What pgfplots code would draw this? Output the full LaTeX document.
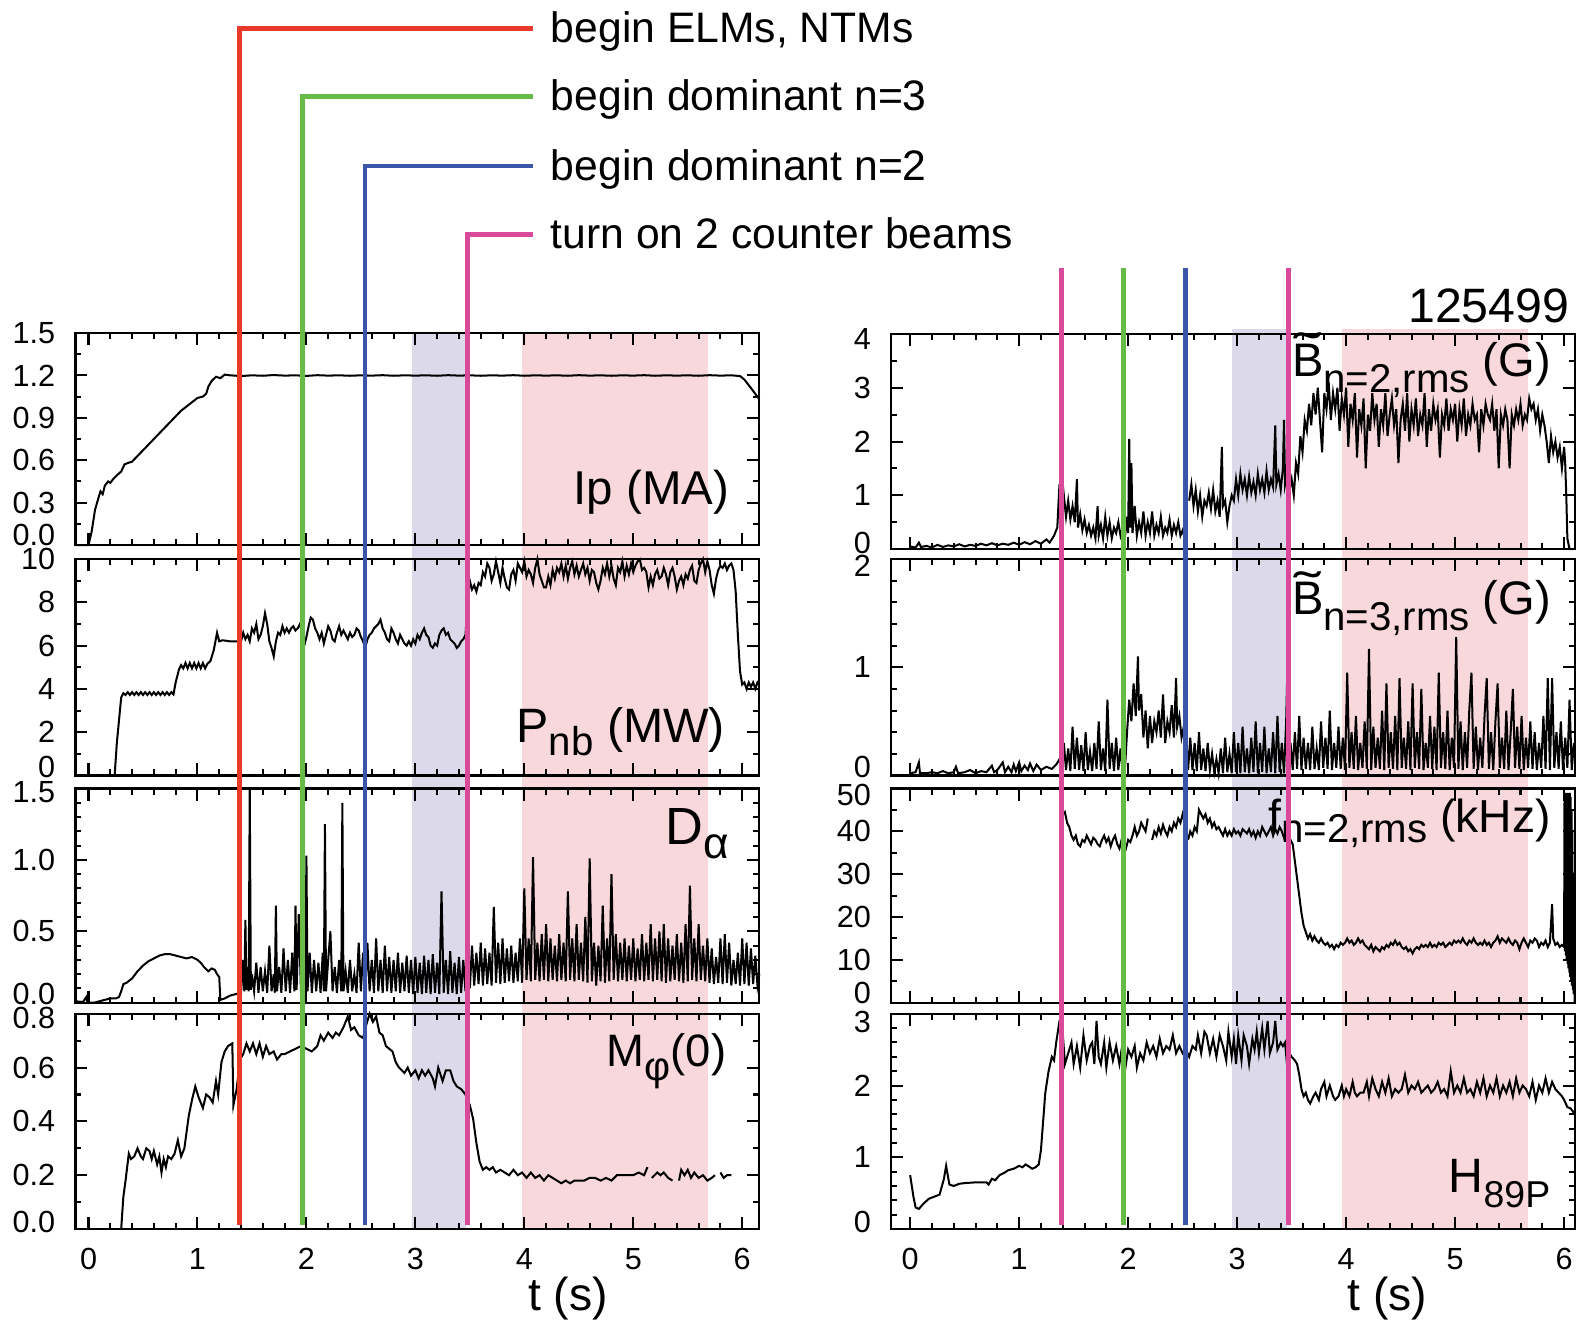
\documentclass[border=0pt]{standalone}
\usepackage{fontspec}
\setmainfont{Liberation Sans}
\usepackage{pgfplots}
\pgfplotsset{compat=1.18}
\definecolor{cRed}{HTML}{E8392B}
\definecolor{cGreen}{HTML}{66BC47}
\definecolor{cBlue}{HTML}{3B56A6}
\definecolor{cMag}{HTML}{D94A9A}
\definecolor{cLav}{HTML}{DCDAEA}
\definecolor{cPink}{HTML}{F8D8DA}
\newcommand\Bt{\ooalign{B\cr\hidewidth\raisebox{0.2em}{\scalebox{1.7}[1]{\char"02DC}}\hidewidth\cr}}
\newcommand\sub[3]{\raisebox{-#1}{\fontsize{#2}{#2}\selectfont #3}}
\newcommand\up[2]{\raisebox{#1}{#2}}
\newcommand\dn[2]{\raisebox{0pt}[\dimexpr\height+#1\relax][0pt]{#2}}
\tikzset{plab/.style={anchor=base east, inner sep=0pt}}
\pgfplotsset{
  pan/.style={scale only axis, width=170pt, anchor=north west, clip=false,
    axis line style={line width=0.55pt}, tick style={line width=0.5pt, black},
    major tick length=3pt, minor tick length=1.5pt,
    xtick={0,1,2,3,4,5,6}, minor x tick num=4, xticklabels={},
    tick label style={font=\fontsize{7.6pt}{8pt}\selectfont},
    yticklabel style={xshift=-1.5pt},
    unbounded coords=jump,
    every axis plot post/.append style={black, line width=0.5pt, mark=none}},
  lcol/.style={pan, xmin=-0.12, xmax=6.157},
  rcol/.style={pan, xmin=-0.175, xmax=6.10},
  bot/.style={xticklabels={0,1,2,3,4,5,6}, xticklabel style={yshift=-1.2pt}},
  ovl/.style={scale only axis, width=170pt, height=305.5pt, anchor=north west,
    hide axis, clip=false, y dir=reverse, ymin=0, ymax=1222}
}
\begin{document}
\begin{tikzpicture}
\useasboundingbox (0,0) rectangle (392pt,-328.5pt);
% ---------- background bands ----------
\begin{axis}[ovl, at={(18.75pt,0pt)}, xmin=-0.12, xmax=6.157]
\fill[cLav] (axis cs:2.972,331) rectangle (axis cs:3.462,1222);
\fill[cPink] (axis cs:3.979,331) rectangle (axis cs:5.686,1222);
\end{axis}
\begin{axis}[ovl, at={(221.5pt,0pt)}, xmin=-0.175, xmax=6.10]
\fill[cLav] (axis cs:2.954,327) rectangle (axis cs:3.462,1222);
\fill[cPink] (axis cs:3.96,327) rectangle (axis cs:5.668,1222);
\end{axis}
% ---------- Ip ----------
\begin{axis}[lcol, at={(18.75pt,-82.75pt)}, height=52.75pt, ymin=0, ymax=1.5,
  ytick={0,0.3,0.6,0.9,1.2,1.5}, yticklabels={\up{5pt}{0.0},0.3,0.6,0.9,1.2,1.5}, minor y tick num=1]
\addplot coordinates {(-0.12,0)(0.0,0)(0.03,0.1)(0.06,0.25)(0.09,0.33)(0.11,0.38)(0.13,0.36)(0.15,0.42)(0.18,0.45)(0.2,0.44)(0.23,0.47)(0.27,0.5)(0.3,0.52)(0.33,0.57)(0.36,0.58)(0.4,0.59)(0.45,0.63)(0.5,0.67)(0.55,0.71)(0.6,0.75)(0.65,0.79)(0.7,0.83)(0.75,0.87)(0.8,0.91)(0.85,0.95)(0.9,0.98)(0.95,1.01)(1.0,1.04)(1.05,1.05)(1.08,1.07)(1.1,1.12)(1.13,1.16)(1.17,1.19)(1.21,1.18)(1.25,1.205)(1.3,1.2)(1.4,1.195)(1.5,1.2)(1.6,1.197)(1.7,1.202)(1.8,1.198)(1.9,1.2)(2.0,1.196)(2.1,1.201)(2.2,1.198)(2.3,1.2)(2.4,1.197)(2.5,1.2)(2.6,1.198)(2.7,1.201)(2.8,1.197)(2.9,1.2)(3.0,1.198)(3.1,1.2)(3.2,1.197)(3.3,1.201)(3.4,1.198)(3.5,1.2)(3.6,1.197)(3.7,1.2)(3.8,1.198)(3.9,1.201)(4.0,1.197)(4.1,1.2)(4.2,1.198)(4.3,1.2)(4.4,1.197)(4.5,1.201)(4.6,1.198)(4.7,1.2)(4.8,1.197)(4.9,1.2)(5.0,1.198)(5.1,1.201)(5.2,1.197)(5.3,1.2)(5.4,1.198)(5.5,1.2)(5.6,1.197)(5.7,1.201)(5.8,1.198)(5.9,1.2)(5.98,1.195)(6.02,1.17)(6.06,1.13)(6.1,1.09)(6.157,1.03)};
\node[plab, font=\fontsize{11.8pt}{12pt}\selectfont] at (rel axis cs:0.957,0.19) {Ip (MA)};
\end{axis}
% ---------- Pnb ----------
\begin{axis}[lcol, at={(18.75pt,-139pt)}, height=53.75pt, ymin=0, ymax=10,
  ytick={0,2,4,6,8,10}, yticklabels={\up{4.5pt}{0},2,4,6,8,10}, minor y tick num=1]
\addplot coordinates {(-0.12,0)(0.24,0)(0.26,1.5)(0.3,3.6)(0.32,3.8)(0.34,3.72)(0.36,3.85)(0.38,3.72)(0.40,3.85)(0.42,3.72)(0.44,3.85)(0.46,3.72)(0.48,3.85)(0.50,3.72)(0.52,3.85)(0.54,3.72)(0.56,3.85)(0.58,3.72)(0.60,3.85)(0.62,3.72)(0.64,3.85)(0.66,3.72)(0.68,3.85)(0.70,3.72)(0.72,3.85)(0.74,3.72)(0.76,3.85)(0.78,3.75)(0.8,4.3)(0.83,4.9)(0.85,5.1)(0.87,4.95)(0.89,5.2)(0.91,4.95)(0.93,5.2)(0.95,4.95)(0.97,5.2)(0.99,4.95)(1.01,5.2)(1.03,4.95)(1.05,5.2)(1.07,4.95)(1.09,5.15)(1.12,5.3)(1.15,5.8)(1.18,6.6)(1.2,6.2)(1.23,6.25)(1.3,6.2)(1.38,6.2)
(1.40,6.2)(1.42,6.6)(1.44,6.3)(1.46,6.5)(1.48,6.2)(1.50,6.8)(1.52,6.6)(1.54,7.0)(1.56,6.3)(1.58,6.5)(1.60,6.9)(1.62,7.5)(1.64,7.0)(1.66,6.2)(1.68,5.9)(1.70,5.5)(1.72,6.2)(1.74,6.6)(1.76,6.5)(1.78,6.9)(1.80,6.6)(1.82,6.8)(1.84,6.6)(1.86,6.8)(1.88,6.9)(1.90,6.7)(1.92,6.8)(1.94,7.0)(1.96,6.7)(1.98,6.0)(2.00,6.4)(2.02,6.9)(2.04,7.3)(2.06,7.2)(2.08,6.8)(2.10,6.6)(2.12,6.3)(2.14,6.6)(2.16,6.1)(2.18,6.5)(2.20,6.9)(2.22,6.7)(2.24,6.3)(2.26,6.2)(2.28,6.6)(2.30,6.9)(2.32,6.5)(2.34,6.7)(2.36,6.5)(2.38,6.3)(2.40,6.6)(2.42,6.4)(2.44,6.5)(2.46,6.8)(2.48,6.7)(2.50,6.4)(2.52,6.2)(2.54,5.9)(2.56,6.3)(2.58,6.5)(2.60,6.6)(2.62,6.8)(2.64,6.9)(2.66,7.0)(2.68,7.2)(2.70,6.8)(2.72,6.6)(2.74,6.3)(2.76,6.2)(2.78,6.8)(2.80,6.6)(2.82,6.3)(2.84,6.1)(2.86,6.5)(2.88,6.3)(2.90,6.1)(2.92,6.0)(2.94,6.2)(2.96,6.0)(2.98,6.3)(3.00,6.1)(3.02,6.5)(3.04,6.3)(3.06,6.6)(3.08,6.8)(3.10,6.5)(3.12,6.4)(3.14,6.0)(3.16,5.9)(3.18,6.1)(3.20,6.0)(3.22,6.5)(3.24,6.7)(3.26,6.8)(3.28,6.5)(3.30,6.6)(3.32,6.3)(3.34,6.2)(3.36,6.1)(3.38,5.9)(3.40,6.0)(3.42,6.2)(3.44,6.3)(3.46,6.5)(3.48,8.0)(3.50,9.0)(3.52,8.6)(3.54,8.8)(3.56,8.5)(3.58,8.9)(3.60,8.8)(3.62,9.4)(3.64,9.2)(3.66,9.8)(3.68,9.6)(3.70,9.0)(3.72,9.3)(3.74,9.9)(3.76,9.4)(3.78,8.9)(3.80,9.6)(3.82,9.1)(3.84,8.7)(3.86,8.6)(3.88,9.3)(3.90,9.5)(3.92,9.0)(3.94,9.8)(3.96,9.6)(3.98,9.4)(4.00,9.9)(4.02,9.2)(4.04,9.5)(4.06,9.3)(4.08,8.9)(4.10,9.6)(4.12,10.0)(4.14,9.3)(4.16,9.0)(4.18,8.7)(4.20,8.7)(4.22,9.2)(4.24,8.8)(4.26,9.5)(4.28,9.1)(4.30,9.6)(4.32,9.4)(4.34,9.8)(4.36,9.2)(4.38,9.7)(4.40,9.1)(4.42,9.6)(4.44,9.9)(4.46,9.3)(4.48,9.7)(4.50,9.2)(4.52,9.5)(4.54,9.8)(4.56,9.3)(4.58,9.6)(4.60,9.0)(4.62,9.5)(4.64,9.4)(4.66,8.9)(4.68,8.6)(4.70,9.0)(4.72,9.6)(4.74,9.3)(4.76,9.8)(4.78,9.2)(4.80,9.7)(4.82,9.1)(4.84,8.8)(4.86,9.6)(4.88,9.4)(4.90,9.9)(4.92,9.2)(4.94,9.7)(4.96,9.3)(4.98,9.8)(5.00,9.4)(5.02,9.7)(5.04,9.9)(5.06,10.0)(5.08,9.5)(5.10,9.6)(5.12,9.4)(5.14,8.7)(5.16,9.2)(5.18,8.8)(5.20,9.3)(5.22,9.5)(5.24,9.1)(5.26,9.2)(5.28,9.6)(5.30,9.3)(5.32,8.8)(5.34,9.4)(5.36,9.6)(5.38,9.2)(5.40,8.6)(5.42,9.0)(5.44,9.2)(5.46,8.8)(5.48,9.3)(5.50,9.1)(5.52,9.5)(5.54,9.7)(5.56,9.0)(5.58,8.9)(5.60,9.5)(5.62,9.8)(5.64,10.0)(5.66,9.4)(5.68,9.9)(5.70,9.5)(5.72,8.8)(5.74,8.4)(5.76,9.1)(5.78,9.5)(5.80,9.7)(5.82,9.6)(5.84,9.8)(5.86,9.5)(5.88,9.7)(5.90,9.8)(5.92,9.5)(5.94,8.5)(5.96,6.5)(5.98,4.8)(6.00,4.2)(6.02,4.3)(6.04,4.0)(6.06,4.3)(6.08,4.1)(6.10,4.3)(6.12,4.0)(6.14,4.3)(6.157,4.2)};
\node[plab, font=\fontsize{12pt}{14pt}\selectfont] at (rel axis cs:0.951,0.153) {P\sub{3.2pt}{10pt}{nb} (MW)};
\end{axis}
% ---------- D alpha ----------
\begin{axis}[lcol, at={(18.75pt,-196pt)}, height=53.25pt, ymin=0, ymax=1.5,
  ytick={0,0.5,1,1.5}, yticklabels={\up{4.5pt}{0.0},0.5,1.0,\dn{1.5pt}{1.5}}, minor y tick num=4]
\addplot coordinates {(-0.12,0.01)(-0.05,0.005)(-0.02,0.04)(-0.01,0.0)(0.05,0.0)(0.1,0.01)(0.15,0.02)(0.2,0.03)(0.25,0.03)(0.28,0.04)(0.3,0.08)(0.32,0.13)(0.35,0.14)(0.4,0.17)(0.45,0.22)(0.5,0.26)(0.55,0.29)(0.6,0.31)(0.65,0.33)(0.7,0.34)(0.75,0.34)(0.8,0.33)(0.85,0.32)(0.9,0.31)(0.95,0.32)(1.0,0.3)(1.03,0.28)(1.06,0.25)(1.1,0.22)(1.13,0.24)(1.16,0.23)(1.18,0.2)(1.2,0.18)(1.21,0.02)(1.25,0.03)(1.3,0.05)(1.35,0.06)
(1.40,.07)(1.42,.30)(1.43,.08)(1.44,.58)(1.45,.09)(1.46,.25)(1.47,.08)(1.48,1.5)(1.49,.09)(1.50,.20)(1.52,.08)(1.54,.28)(1.56,.07)(1.58,.25)(1.60,.08)(1.62,.22)(1.64,.07)(1.66,.40)(1.68,.08)(1.70,.20)(1.71,.07)(1.72,.68)(1.73,.08)(1.75,.25)(1.77,.07)(1.79,.38)(1.81,.08)(1.83,.30)(1.85,.07)(1.87,.35)(1.89,.08)(1.90,.68)(1.91,.09)(1.93,.62)(1.95,.08)(1.97,.20)(1.99,.07)(2.00,1.03)(2.01,.08)(2.03,.35)(2.05,.07)(2.07,.30)(2.09,.08)(2.11,.28)(2.13,.07)(2.15,.35)(2.16,.08)(2.17,1.25)(2.18,.08)(2.20,.30)(2.22,.50)(2.24,.08)(2.26,.25)(2.28,.07)(2.30,.30)(2.32,.08)(2.33,1.40)(2.34,.08)(2.36,.22)(2.38,.07)(2.40,.30)(2.42,.08)(2.44,.20)(2.46,.07)(2.48,.42)(2.50,.08)(2.52,.35)(2.54,.07)(2.56,.42)(2.58,.08)(2.60,.30)(2.62,.07)(2.64,.45)(2.66,.08)(2.68,.30)(2.70,.07)(2.72,.40)(2.74,.08)(2.76,.32)(2.78,.07)(2.80,.30)(2.82,.08)(2.84,.35)(2.86,.07)(2.88,.28)(2.90,.08)(2.92,.33)(2.94,.07)(2.96,.30)(2.98,.06)(3.00,.32)(3.02,.07)(3.04,.28)(3.06,.06)(3.08,.33)(3.10,.07)(3.12,.30)(3.14,.06)(3.16,.34)(3.18,.07)(3.20,.28)(3.22,.06)(3.24,.78)(3.26,.07)(3.28,.30)(3.30,.06)(3.32,.36)(3.34,.07)(3.36,.28)(3.38,.06)(3.40,.32)(3.42,.07)(3.44,.30)(3.46,.08)(3.48,.35)(3.50,.10)
(3.52,.40)(3.54,.12)(3.56,.35)(3.58,.13)(3.60,.42)(3.62,.12)(3.64,.38)(3.66,.13)(3.68,.35)(3.70,.12)(3.72,.67)(3.74,.14)(3.76,.42)(3.78,.13)(3.80,.45)(3.82,.14)(3.84,.38)(3.86,.15)(3.88,.40)(3.90,.14)(3.92,.35)(3.94,.15)(3.96,.45)(3.98,.14)(4.00,.80)(4.02,.16)(4.04,.45)(4.06,.15)(4.08,1.02)(4.10,.16)(4.12,.42)(4.14,.15)(4.16,.48)(4.18,.16)(4.20,.55)(4.22,.15)(4.24,.45)(4.26,.16)(4.28,.40)(4.30,.15)(4.32,.48)(4.34,.16)(4.36,.42)(4.38,.15)(4.40,.78)(4.42,.16)(4.44,.45)(4.46,.15)(4.48,.55)(4.50,.16)(4.52,.42)(4.54,.15)(4.56,.60)(4.58,.14)(4.60,1.01)(4.62,.15)(4.64,.42)(4.66,.12)(4.68,.40)(4.70,.15)(4.72,.68)(4.74,.14)(4.76,.45)(4.78,.15)(4.80,.90)(4.82,.16)(4.84,.48)(4.86,.15)(4.88,.42)(4.90,.16)(4.92,.45)(4.94,.15)(4.96,.40)(4.98,.16)(5.00,.45)(5.02,.15)(5.04,.38)(5.06,.16)(5.08,.48)(5.10,.15)(5.12,.42)(5.14,.16)(5.16,.55)(5.18,.15)(5.20,.45)(5.22,.16)(5.24,.50)(5.26,.15)(5.28,.55)(5.30,.14)(5.32,.45)(5.34,.15)(5.36,.40)(5.38,.16)(5.40,.48)(5.42,.15)(5.44,.42)(5.46,.14)(5.48,.55)(5.50,.15)(5.52,.82)(5.54,.16)(5.56,.45)(5.58,.15)(5.60,.55)(5.62,.16)(5.64,.40)(5.66,.15)(5.68,.45)(5.70,.14)(5.72,.38)(5.74,.13)(5.76,.32)(5.78,.14)(5.80,.45)(5.82,.13)(5.84,.48)(5.86,.14)(5.88,.42)(5.90,.12)(5.92,.30)(5.94,.13)(5.96,.35)(5.98,.12)(6.00,.45)(6.02,.13)(6.04,.42)(6.06,.12)(6.08,.38)(6.10,.13)(6.12,.33)(6.14,.12)(6.157,.20)};
\node[plab, font=\fontsize{13pt}{14pt}\selectfont] at (rel axis cs:0.957,0.737) {D\sub{3.5pt}{11pt}{α}};
\end{axis}
% ---------- M phi ----------
\begin{axis}[lcol, bot, at={(18.75pt,-252pt)}, height=53.5pt, ymin=0, ymax=0.8,
  ytick={0,0.2,0.4,0.6,0.8}, yticklabels={\up{3.5pt}{0.0},0.2,0.4,0.6,\dn{2pt}{0.8}}, minor y tick num=1]
\addplot coordinates {(0.30,0)(0.32,0.12)(0.34,0.18)(0.37,0.28)(0.39,0.26)(0.42,0.27)(0.45,0.3)(0.48,0.27)(0.5,0.26)(0.53,0.3)(0.56,0.29)(0.58,0.26)(0.6,0.29)(0.63,0.24)(0.65,0.27)(0.67,0.21)(0.69,0.26)(0.71,0.23)(0.73,0.27)(0.76,0.26)(0.79,0.28)(0.82,0.33)(0.85,0.27)(0.88,0.3)(0.92,0.42)(0.95,0.48)(0.98,0.53)(1.01,0.49)(1.05,0.45)(1.08,0.5)(1.11,0.49)(1.14,0.47)(1.17,0.55)(1.19,0.5)(1.22,0.62)(1.25,0.66)(1.28,0.68)(1.32,0.69)(1.33,0.46)(1.36,0.52)(1.39,0.63)(1.42,0.65)(1.45,0.69)(1.48,0.66)(1.51,0.69)(1.54,0.65)(1.57,0.69)(1.6,0.64)(1.63,0.68)(1.66,0.65)(1.7,0.66)(1.73,0.63)(1.77,0.65)(1.8,0.65)(1.85,0.66)(1.9,0.67)(1.95,0.68)(2.0,0.67)(2.05,0.66)(2.1,0.68)(2.13,0.72)(2.16,0.7)(2.2,0.73)(2.24,0.71)(2.27,0.73)(2.3,0.72)(2.34,0.75)(2.38,0.79)(2.41,0.74)(2.44,0.75)(2.48,0.72)(2.52,0.71)(2.55,0.76)(2.58,0.8)(2.61,0.77)(2.64,0.79)(2.67,0.73)(2.7,0.72)(2.73,0.68)(2.76,0.67)(2.79,0.66)(2.82,0.62)(2.85,0.6)(2.9,0.58)(2.93,0.6)(2.96,0.57)(3.0,0.59)(3.03,0.56)(3.06,0.59)(3.09,0.57)(3.12,0.59)(3.16,0.56)(3.18,0.53)(3.21,0.6)(3.25,0.55)(3.28,0.59)(3.32,0.59)(3.35,0.55)(3.38,0.53)(3.42,0.52)(3.46,0.5)(3.5,0.46)(3.53,0.41)(3.56,0.32)(3.59,0.25)(3.62,0.22)(3.65,0.23)(3.68,0.22)(3.71,0.23)(3.74,0.21)(3.78,0.22)(3.82,0.21)(3.86,0.2)(3.9,0.22)(3.94,0.2)(3.98,0.21)(4.02,0.19)(4.06,0.21)(4.1,0.19)(4.14,0.2)(4.18,0.18)(4.22,0.2)(4.26,0.19)(4.3,0.18)(4.34,0.17)(4.38,0.18)(4.42,0.17)(4.46,0.18)(4.5,0.18)(4.55,0.18)(4.6,0.19)(4.65,0.19)(4.7,0.18)(4.75,0.19)(4.8,0.18)(4.85,0.2)(4.9,0.2)(4.95,0.2)(5.0,0.2)(5.05,0.21)(5.1,0.2)(5.13,0.23)(5.14,nan)(5.17,0.19)(5.22,0.21)(5.25,0.2)(5.28,0.21)(5.32,0.19)(5.36,0.18)(5.38,nan)(5.42,0.18)(5.44,0.22)(5.47,0.2)(5.5,0.22)(5.53,0.19)(5.56,0.21)(5.6,0.19)(5.64,0.2)(5.68,0.18)(5.72,0.19)(5.75,0.2)(5.77,nan)(5.8,0.21)(5.83,0.19)(5.86,0.2)(5.9,0.2)};
\node[plab, font=\fontsize{11.3pt}{12pt}\selectfont] at (rel axis cs:0.953,0.757) {M\sub{3.5pt}{10pt}{φ}(0)};
\node[anchor=base, inner sep=0pt, yshift=-20.25pt, font=\fontsize{11.5pt}{12pt}\selectfont] at (rel axis cs:0.72,0) {t (s)};
\end{axis}
% ---------- B n=2 ----------
\begin{axis}[rcol, at={(221.5pt,-83pt)}, height=53.5pt, ymin=0, ymax=4,
  ytick={0,1,2,3,4}, yticklabels={\up{3pt}{0},1,2,3,\dn{2.5pt}{4}}, minor y tick num=1]
\addplot coordinates {(0.00,.05)(0.05,.03)(0.08,.12)(0.1,.04)(0.15,.06)(0.2,.03)(0.25,.08)(0.3,.04)(0.35,.07)(0.4,.05)(0.45,.09)(0.5,.05)(0.55,.08)(0.6,.06)(0.65,.1)(0.7,.07)(0.75,.11)(0.8,.07)(0.85,.1)(0.9,.08)(0.95,.12)(1.0,.08)(1.05,.13)(1.1,.09)(1.15,.15)(1.2,.1)(1.25,.18)(1.28,.12)(1.32,.25)(1.35,.4)(1.37,1.2)(1.39,.7)(1.41,1.0)(1.43,.6)(1.45,.9)(1.47,.55)(1.49,.8)(1.51,.5)(1.53,1.3)(1.54,.4)(1.56,.65)(1.58,.35)(1.6,.55)(1.62,.3)(1.64,.45)(1.66,.25)(1.68,.4)(1.7,.2)(1.72,.8)(1.73,.25)(1.75,.45)(1.77,.2)(1.79,.6)(1.81,.25)(1.83,.5)(1.85,.2)(1.87,.4)(1.89,.3)(1.91,.5)(1.93,.25)(1.95,.4)(1.97,.2)(1.99,.6)(2.0,.3)(2.01,2.05)(2.02,.4)(2.03,1.6)(2.04,.3)(2.06,.8)(2.08,.25)(2.1,.5)(2.12,.3)(2.14,.7)(2.16,.25)(2.18,.5)(2.2,.3)(2.22,.7)(2.24,.25)(2.26,.45)(2.28,.3)(2.3,.6)(2.32,.25)(2.34,.4)(2.36,.3)(2.38,.55)(2.4,.25)(2.42,.45)(2.44,.3)(2.46,.5)(2.48,.25)(2.5,.35)(2.52,.2)(2.53,nan)(2.56,.9)(2.58,1.2)(2.6,.8)(2.62,1.1)(2.64,.7)(2.66,1.0)(2.68,.6)(2.70,.9)(2.72,.8)(2.74,1.05)(2.76,.75)(2.78,1.1)(2.8,.7)(2.82,.9)(2.84,.6)(2.86,1.9)(2.87,.8)(2.89,.9)(2.91,.5)(2.93,.8)(2.95,1.0)(2.97,.9)(2.99,1.3)(3.01,1.0)(3.03,1.4)(3.05,1.1)(3.07,1.3)(3.09,1.0)(3.11,1.35)(3.13,1.05)(3.15,1.25)(3.17,1.0)(3.19,1.4)(3.21,1.1)(3.23,1.3)(3.25,1.05)(3.27,1.45)(3.29,1.1)(3.31,1.3)(3.33,1.15)(3.35,2.3)(3.36,1.2)(3.38,1.4)(3.4,1.1)(3.42,1.5)(3.43,2.4)(3.44,1.2)(3.46,1.4)(3.48,1.1)(3.50,1.3)(3.52,1.0)(3.54,1.6)(3.56,1.4)(3.58,2.1)(3.60,1.8)(3.62,2.4)(3.64,2.2)(3.66,2.7)(3.68,2.3)(3.70,2.9)(3.72,2.5)(3.74,3.0)(3.76,2.4)(3.78,1.8)(3.80,2.9)(3.82,2.6)(3.84,3.1)(3.86,2.4)(3.88,2.9)(3.90,2.6)(3.92,3.0)(3.94,2.2)(3.96,2.8)(3.98,2.5)(4.0,3.0)(4.02,1.9)(4.04,2.7)(4.06,2.4)(4.08,2.9)(4.10,1.7)(4.12,2.6)(4.14,2.3)(4.16,2.8)(4.18,1.5)(4.20,2.5)(4.22,2.2)(4.24,2.9)(4.26,2.4)(4.28,2.7)(4.30,1.9)(4.32,2.6)(4.34,2.3)(4.36,2.9)(4.38,2.1)(4.40,2.5)(4.42,2.8)(4.44,2.3)(4.46,2.6)(4.48,1.6)(4.50,2.4)(4.52,2.7)(4.54,2.2)(4.56,2.9)(4.58,2.0)(4.60,2.6)(4.62,2.3)(4.64,2.8)(4.66,2.1)(4.68,2.5)(4.70,2.3)(4.72,2.9)(4.74,1.9)(4.76,2.6)(4.78,2.2)(4.80,2.7)(4.82,2.4)(4.84,2.6)(4.86,1.7)(4.88,2.5)(4.90,2.3)(4.92,2.8)(4.94,2.2)(4.96,2.6)(4.98,2.4)(5.00,2.7)(5.02,2.0)(5.04,2.6)(5.06,2.3)(5.08,2.8)(5.10,2.1)(5.12,2.5)(5.14,2.3)(5.16,2.7)(5.18,2.4)(5.20,2.5)(5.22,1.8)(5.24,2.6)(5.26,2.3)(5.28,2.7)(5.30,2.5)(5.32,2.4)(5.34,2.7)(5.36,2.2)(5.38,2.6)(5.40,1.5)(5.42,2.5)(5.44,2.3)(5.46,2.6)(5.48,2.4)(5.50,1.5)(5.52,2.5)(5.54,2.3)(5.56,2.6)(5.58,2.4)(5.60,2.7)(5.62,2.3)(5.64,2.5)(5.66,2.4)(5.68,2.8)(5.70,2.6)(5.72,2.7)(5.74,2.4)(5.76,2.6)(5.78,2.2)(5.80,2.5)(5.82,2.3)(5.84,2.0)(5.86,1.6)(5.88,2.1)(5.90,1.8)(5.92,2.0)(5.94,1.7)(5.96,1.9)(5.98,1.5)(6.00,1.9)(6.01,1.6)(6.02,1.0)(6.03,0.2)(6.05,0.0)(6.08,0.0)};
\node[plab, font=\fontsize{11.7pt}{12pt}\selectfont] at (rel axis cs:0.966,0.804) {\Bt\sub{4pt}{10pt}{n=2,rms} (G)};
\node[plab, font=\fontsize{12pt}{12pt}\selectfont] at (rel axis cs:0.993,1.051) {125499};
\end{axis}
% ---------- B n=3 ----------
\begin{axis}[rcol, at={(221.5pt,-139pt)}, height=53.75pt, ymin=0, ymax=2,
  ytick={0,1,2}, yticklabels={\up{4.5pt}{0},1,\dn{3.5pt}{2}}, minor y tick num=4]
\addplot coordinates {(0.0,.02)(0.05,.03)(0.08,.12)(0.09,.02)(0.15,.02)(0.2,.03)(0.25,.02)(0.3,.04)(0.35,.02)(0.4,.03)(0.42,.08)(0.44,.02)(0.5,.03)(0.55,.05)(0.6,.02)(0.65,.04)(0.7,.03)(0.75,.09)(0.77,.03)(0.8,.05)(0.85,.12)(0.87,.03)(0.9,.08)(0.93,.03)(0.95,.1)(0.97,.04)(1.0,.12)(1.02,.04)(1.05,.09)(1.08,.05)(1.1,.11)(1.13,.04)(1.16,.1)(1.2,.05)(1.25,.08)(1.3,.06)(1.34,.1)(1.37,.15)(1.39,.05)(1.41,.3)(1.43,.05)(1.45,.25)(1.47,.04)(1.49,.45)(1.51,.06)(1.53,.35)(1.55,.05)(1.57,.28)(1.59,.04)(1.61,.4)(1.63,.05)(1.65,.22)(1.67,.04)(1.69,.3)(1.71,.06)(1.73,.5)(1.75,.05)(1.77,.25)(1.79,.04)(1.81,.7)(1.83,.06)(1.85,.3)(1.87,.04)(1.89,.35)(1.91,.05)(1.93,.25)(1.95,.04)(1.97,.05)(1.99,.4)(2.01,.7)(2.03,.5)(2.05,.85)(2.07,.55)(2.09,1.1)(2.1,.6)(2.12,.75)(2.14,.35)(2.16,.6)(2.18,.25)(2.2,.55)(2.22,.3)(2.24,.5)(2.26,.4)(2.28,.6)(2.3,.35)(2.32,.75)(2.34,.3)(2.36,.5)(2.38,.4)(2.4,.65)(2.42,.35)(2.44,.9)(2.45,.45)(2.47,.55)(2.49,.35)(2.51,.45)(2.53,.4)(2.55,.05)(2.57,.35)(2.59,.05)(2.61,.3)(2.63,.04)(2.65,.4)(2.67,.05)(2.69,.25)(2.71,.04)(2.73,.3)(2.75,.05)(2.77,.2)(2.79,.03)(2.81,.15)(2.83,.02)(2.85,.25)(2.87,.02)(2.89,.35)(2.91,.03)(2.93,.2)(2.95,.02)(2.97,.4)(2.99,.03)(3.01,.3)(3.03,.02)(3.05,.45)(3.07,.03)(3.09,.25)(3.11,.02)(3.13,.35)(3.15,.03)(3.17,.5)(3.19,.02)(3.21,.3)(3.23,.03)(3.25,.45)(3.27,.02)(3.29,.25)(3.31,.03)(3.33,.4)(3.35,.02)(3.37,.55)(3.39,.03)(3.41,.3)(3.43,.02)(3.45,.5)(3.46,.95)(3.47,.04)(3.49,.3)(3.51,.05)(3.53,.4)(3.55,.06)(3.57,.55)(3.59,.05)(3.61,.35)(3.63,.06)(3.65,.3)(3.67,.05)(3.69,.45)(3.71,.06)(3.73,.25)(3.75,.05)(3.77,.5)(3.79,.07)(3.81,.35)(3.83,.06)(3.85,.6)(3.87,.05)(3.89,.3)(3.91,.07)(3.93,.45)(3.95,.06)(3.97,.35)(3.99,.05)(4.01,.95)(4.03,.07)(4.05,.4)(4.07,.06)(4.09,.55)(4.11,.05)(4.13,.3)(4.15,.07)(4.17,.5)(4.19,.06)(4.21,1.17)(4.23,.05)(4.25,.45)(4.27,.07)(4.29,.35)(4.31,.06)(4.33,.6)(4.35,.05)(4.37,.85)(4.39,.07)(4.41,.4)(4.43,.06)(4.45,.55)(4.47,.05)(4.49,.9)(4.51,.07)(4.53,.35)(4.55,.06)(4.57,.5)(4.59,.05)(4.61,.85)(4.63,.07)(4.65,.4)(4.67,.06)(4.69,.8)(4.71,.05)(4.73,.3)(4.75,.07)(4.77,.55)(4.79,.06)(4.81,.45)(4.83,.05)(4.85,.95)(4.87,.07)(4.89,.4)(4.91,.06)(4.93,.6)(4.95,.05)(4.97,.35)(4.99,.07)(5.01,1.28)(5.03,.06)(5.05,.5)(5.07,.05)(5.09,.4)(5.11,.07)(5.13,.6)(5.15,.95)(5.17,.06)(5.19,.45)(5.21,.05)(5.23,.35)(5.25,.07)(5.27,.55)(5.29,.9)(5.31,.06)(5.33,.4)(5.35,.05)(5.37,.5)(5.39,.85)(5.41,.07)(5.43,.35)(5.45,.06)(5.47,.6)(5.49,.05)(5.51,.4)(5.53,.8)(5.55,.07)(5.57,.45)(5.59,.06)(5.61,.55)(5.63,.05)(5.65,.35)(5.67,.07)(5.69,.5)(5.71,.06)(5.73,.4)(5.75,.05)(5.77,.3)(5.79,.07)(5.81,.55)(5.83,.06)(5.85,.9)(5.87,.05)(5.89,.9)(5.91,.07)(5.93,.4)(5.95,.06)(5.97,.5)(5.99,.05)(6.01,.35)(6.03,.07)(6.05,.7)(6.07,.05)(6.09,.3)};
\node[plab, font=\fontsize{11.7pt}{12pt}\selectfont] at (rel axis cs:0.966,0.744) {\Bt\sub{4pt}{10pt}{n=3,rms} (G)};
\end{axis}
% ---------- f ----------
\begin{axis}[rcol, at={(221.5pt,-196pt)}, height=53.25pt, ymin=0, ymax=50,
  ytick={0,10,20,30,40,50}, yticklabels={\up{5pt}{0},10,20,30,40,\dn{3pt}{50}}, minor y tick num=1]
\addplot coordinates {(1.38,45)(1.40,44)(1.42,44.5)(1.44,42)(1.46,41)(1.48,39)(1.50,38)(1.52,39)(1.54,37)(1.56,36.5)(1.58,38)(1.60,37.5)(1.62,39)(1.64,38)(1.66,37)(1.68,38.5)(1.70,38)(1.72,37)(1.74,36.5)(1.76,38)(1.78,39)(1.80,37.5)(1.82,38.5)(1.84,36.5)(1.86,38)(1.88,39)(1.90,37)(1.92,36)(1.94,38)(1.96,37)(1.98,36)(2.00,38)(2.02,37.5)(2.04,39)(2.06,41)(2.08,39)(2.10,40)(2.12,42)(2.14,41)(2.16,40)(2.18,43)(2.19,nan)(2.22,38)(2.24,40)(2.26,39)(2.28,41)(2.30,39.5)(2.32,41.5)(2.34,40)(2.36,39)(2.38,41)(2.40,40)(2.42,42)(2.44,41)(2.46,43)(2.48,42)(2.50,44)(2.52,42)(2.53,nan)(2.55,38)(2.57,40)(2.59,39)(2.61,41)(2.63,40)(2.65,45)(2.67,44)(2.69,43)(2.71,44)(2.73,42)(2.75,43)(2.77,41)(2.79,42)(2.81,40.5)(2.83,41)(2.85,40)(2.87,39)(2.89,40.5)(2.91,39)(2.93,40)(2.95,39)(2.97,40.5)(2.99,39.5)(3.01,40)(3.03,39)(3.05,40.5)(3.07,40)(3.09,39.5)(3.11,40.5)(3.13,39)(3.15,40)(3.17,38.5)(3.19,40)(3.21,39)(3.23,41)(3.25,40)(3.27,39)(3.29,40)(3.31,41)(3.33,39)(3.35,40.5)(3.37,39.5)(3.39,41)(3.41,40)(3.43,38.5)(3.45,40)(3.47,39)(3.49,38)(3.51,37)(3.53,33)(3.55,29)(3.57,25)(3.59,21)(3.61,18)(3.63,16.5)(3.65,15)(3.67,16)(3.69,14.5)(3.71,15.5)(3.73,14.5)(3.75,14)(3.77,15)(3.79,14)(3.81,13.5)(3.83,14)(3.85,13)(3.87,13.5)(3.89,12.5)(3.91,13.5)(3.93,13)(3.95,14)(3.97,13.5)(3.99,14)(4.01,15)(4.03,14)(4.05,14.5)(4.07,13.5)(4.09,14)(4.11,15)(4.13,14)(4.15,14.5)(4.17,13.5)(4.19,13)(4.21,12.5)(4.23,13.5)(4.25,12)(4.27,13)(4.29,12.5)(4.31,12)(4.33,13)(4.35,12.5)(4.37,13.5)(4.39,13)(4.41,14)(4.43,13.5)(4.45,14.5)(4.47,13.5)(4.49,14)(4.51,13)(4.53,12.5)(4.55,13)(4.57,12)(4.59,12.5)(4.61,11.5)(4.63,12.5)(4.65,13)(4.67,12.5)(4.69,13.5)(4.71,13)(4.73,13.5)(4.75,13)(4.77,14)(4.79,13)(4.81,13.5)(4.83,13)(4.85,14)(4.87,13.5)(4.89,14)(4.91,13)(4.93,13.5)(4.95,14)(4.97,13.5)(4.99,14.5)(5.01,14)(5.03,14.5)(5.05,14)(5.07,15)(5.09,14)(5.11,13.5)(5.13,14.5)(5.15,14)(5.17,15)(5.19,14)(5.21,13.5)(5.23,14)(5.25,13.5)(5.27,14.5)(5.29,13.5)(5.31,14)(5.33,13)(5.35,14)(5.37,14.5)(5.39,15.5)(5.41,14)(5.43,15)(5.45,14.5)(5.47,14)(5.49,15)(5.51,14)(5.53,13.5)(5.55,14.5)(5.57,14)(5.59,12.5)(5.61,14)(5.63,15)(5.65,14)(5.67,13)(5.69,14.5)(5.71,14)(5.73,15)(5.75,14.5)(5.77,13)(5.79,14)(5.81,13.5)(5.83,14.5)(5.85,13)(5.87,14)(5.89,23)(5.90,15)(5.92,13.5)(5.94,14)(5.96,13)(5.98,13.5)(6.000,13)(6.004,49)(6.008,12)(6.012,49)(6.016,11)(6.020,49)(6.024,10)(6.028,49)(6.032,9)(6.036,49)(6.040,8)(6.044,49)(6.048,7)(6.052,49)(6.056,6)(6.060,48)(6.064,5)(6.068,45)(6.072,4)(6.076,40)(6.080,3)(6.084,30)(6.088,2)(6.092,15)(6.096,0)};
\node[plab, font=\fontsize{11.5pt}{12pt}\selectfont] at (rel axis cs:0.966,0.793) {f\sub{2.5pt}{10pt}{n=2,rms} (kHz)};
\end{axis}
% ---------- H89P ----------
\begin{axis}[rcol, bot, at={(221.5pt,-252pt)}, height=53.5pt, ymin=0, ymax=3,
  ytick={0,1,2,3}, yticklabels={\up{3.5pt}{0},1,2,\dn{4pt}{3}}, minor y tick num=4]
\addplot coordinates {(0.00,.75)(0.03,.45)(0.05,.3)(0.08,.28)(0.12,.35)(0.17,.42)(0.22,.45)(0.27,.48)(0.31,.7)(0.33,.88)(0.36,.62)(0.4,.6)(0.45,.63)(0.5,.64)(0.6,.65)(0.7,.65)(0.72,.62)(0.75,.7)(0.78,.68)(0.82,.75)(0.86,.78)(0.9,.82)(0.95,.84)(1.0,.88)(1.03,.86)(1.06,.9)(1.09,.87)(1.12,.84)(1.15,.86)(1.18,.9)(1.2,1.1)(1.22,1.5)(1.24,1.9)(1.27,2.2)(1.3,2.4)(1.32,2.35)(1.34,2.6)(1.37,2.9)(1.39,2.95)(1.42,2.3)(1.45,2.45)(1.48,2.6)(1.5,2.3)(1.53,2.55)(1.56,2.25)(1.59,2.7)(1.62,2.35)(1.65,2.55)(1.67,2.6)(1.69,2.3)(1.71,2.9)(1.73,2.4)(1.75,2.3)(1.78,2.6)(1.8,2.25)(1.83,2.6)(1.86,2.35)(1.89,2.55)(1.92,2.3)(1.95,2.6)(1.97,2.2)(2.0,2.5)(2.03,2.4)(2.06,2.55)(2.08,2.25)(2.11,2.45)(2.14,2.35)(2.17,2.6)(2.2,2.45)(2.23,2.55)(2.26,2.4)(2.29,2.65)(2.32,2.45)(2.35,2.55)(2.38,2.5)(2.41,2.7)(2.44,2.45)(2.47,2.55)(2.5,2.45)(2.53,2.5)(2.56,2.4)(2.59,2.55)(2.62,2.5)(2.64,2.7)(2.67,2.45)(2.7,2.75)(2.72,2.7)(2.75,2.45)(2.78,2.65)(2.81,2.4)(2.84,2.7)(2.87,2.55)(2.9,2.35)(2.92,2.75)(2.95,2.4)(2.97,2.65)(2.99,2.3)(3.01,2.7)(3.04,2.35)(3.06,2.7)(3.09,2.55)(3.11,2.3)(3.14,2.65)(3.16,2.5)(3.18,2.75)(3.2,2.45)(3.23,2.8)(3.25,2.5)(3.28,2.9)(3.3,2.45)(3.33,2.6)(3.35,2.9)(3.37,2.5)(3.4,2.6)(3.42,2.55)(3.44,2.6)(3.46,2.25)(3.48,2.45)(3.5,2.4)(3.53,2.35)(3.55,2.3)(3.57,2.15)(3.59,1.95)(3.61,1.85)(3.63,1.9)(3.65,1.8)(3.67,1.75)(3.7,1.85)(3.72,1.9)(3.75,1.8)(3.77,1.95)(3.8,2.05)(3.82,1.85)(3.85,2.0)(3.88,1.85)(3.9,1.8)(3.93,1.85)(3.96,2.0)(3.98,1.85)(4.0,1.95)(4.03,1.85)(4.06,2.05)(4.08,1.9)(4.1,1.85)(4.13,1.9)(4.16,1.9)(4.19,2.05)(4.21,1.85)(4.24,2.1)(4.27,1.95)(4.3,1.85)(4.33,2.05)(4.36,1.9)(4.39,2.1)(4.42,1.85)(4.45,1.95)(4.48,1.9)(4.51,1.95)(4.54,2.15)(4.57,1.9)(4.6,2.0)(4.63,1.95)(4.66,2.05)(4.69,1.9)(4.72,1.95)(4.75,2.0)(4.78,1.9)(4.81,1.95)(4.84,2.05)(4.87,1.9)(4.9,1.95)(4.93,1.85)(4.96,2.2)(4.99,1.9)(5.02,2.0)(5.05,1.9)(5.08,2.1)(5.11,1.9)(5.14,1.95)(5.17,1.85)(5.2,2.05)(5.23,1.9)(5.26,2.1)(5.29,1.85)(5.32,2.0)(5.35,1.9)(5.38,2.1)(5.41,1.85)(5.44,2.0)(5.47,1.9)(5.5,2.05)(5.53,1.85)(5.56,2.1)(5.59,1.9)(5.62,2.0)(5.65,1.95)(5.68,1.85)(5.71,2.05)(5.74,1.8)(5.77,2.0)(5.8,1.9)(5.83,2.1)(5.86,1.9)(5.89,2.05)(5.92,1.95)(5.95,1.9)(5.98,1.85)(6.0,1.8)(6.03,1.7)(6.06,1.68)(6.1,1.6)};
\node[plab, font=\fontsize{12pt}{12pt}\selectfont] at (rel axis cs:0.965,0.168) {H\sub{3.75pt}{9.3pt}{89P}};
\node[anchor=base, inner sep=0pt, yshift=-20.25pt, font=\fontsize{11.5pt}{12pt}\selectfont] at (rel axis cs:0.726,0) {t (s)};
\end{axis}
% ---------- event lines (left) ----------
\begin{axis}[ovl, at={(18.75pt,0pt)}, xmin=-0.12, xmax=6.157]
\addplot[cRed, line width=1.2pt] coordinates {(4.08,28)(1.385,28)(1.385,1218)};
\addplot[cGreen, line width=1.2pt] coordinates {(4.08,96)(1.966,96)(1.966,1218)};
\addplot[cBlue, line width=1.2pt] coordinates {(4.08,165)(2.538,165)(2.538,1218)};
\addplot[cMag, line width=1.2pt] coordinates {(4.08,233)(3.48,233)(3.48,1218)};
\node[anchor=base west, inner sep=0pt, font=\fontsize{10.6pt}{12pt}\selectfont] at (axis cs:4.237,42) {begin ELMs, NTMs};
\node[anchor=base west, inner sep=0pt, font=\fontsize{10.6pt}{12pt}\selectfont] at (axis cs:4.237,110) {begin dominant n=3};
\node[anchor=base west, inner sep=0pt, font=\fontsize{10.6pt}{12pt}\selectfont] at (axis cs:4.237,179) {begin dominant n=2};
\node[anchor=base west, inner sep=0pt, font=\fontsize{10.6pt}{12pt}\selectfont] at (axis cs:4.237,247) {turn on 2 counter beams};
\end{axis}
% ---------- event lines (right) ----------
\begin{axis}[ovl, at={(221.5pt,0pt)}, xmin=-0.175, xmax=6.10]
\addplot[cMag, line width=1.2pt] coordinates {(1.385,266)(1.385,1218)};
\addplot[cGreen, line width=1.2pt] coordinates {(1.957,266)(1.957,1218)};
\addplot[cBlue, line width=1.2pt] coordinates {(2.529,266)(2.529,1218)};
\addplot[cMag, line width=1.2pt] coordinates {(3.471,266)(3.471,1218)};
\end{axis}
\end{tikzpicture}
\end{document}
